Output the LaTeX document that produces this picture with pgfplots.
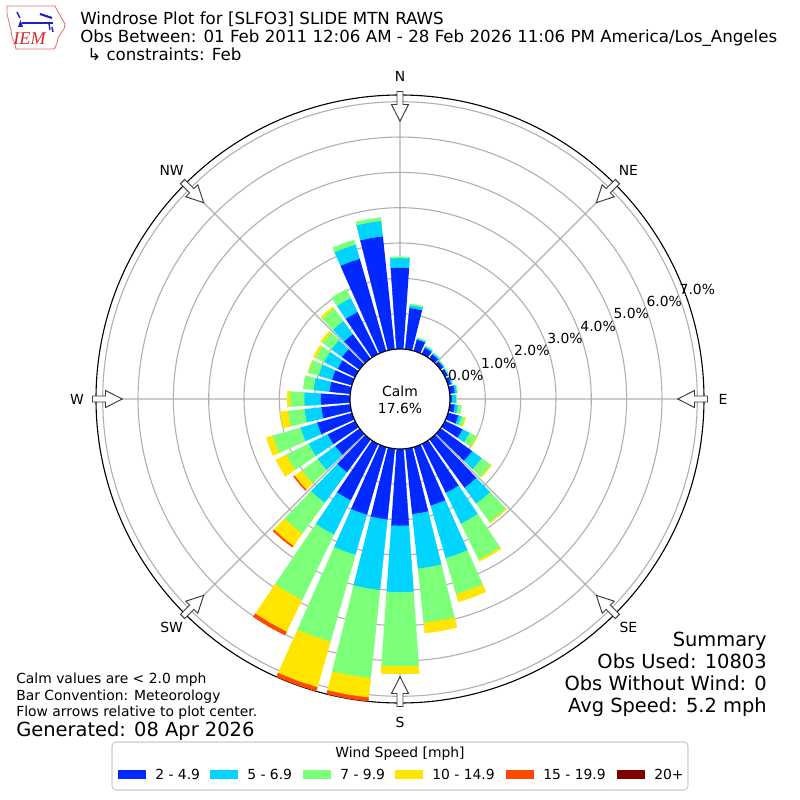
\documentclass[border=0pt]{standalone}
\usepackage{pgfplots}
\pgfplotsset{compat=1.18}
\usepackage{pgfplotstable}
\usepgfplotslibrary{polar}
\usepackage{fontspec}
\setmainfont{DejaVu Sans}
\newfontfamily\logofont{Liberation Serif}

\definecolor{wc1}{RGB}{0,40,255}
\definecolor{wc2}{RGB}{0,212,255}
\definecolor{wc3}{RGB}{124,255,121}
\definecolor{wc4}{RGB}{255,229,0}
\definecolor{wc5}{RGB}{255,72,0}
\definecolor{wc6}{RGB}{128,0,0}
\definecolor{gridgray}{RGB}{176,176,176}
\definecolor{arrowgray}{RGB}{60,60,60}
\definecolor{legendgray}{RGB}{204,204,204}
\definecolor{logored}{RGB}{215,40,40}
\definecolor{logoline}{RGB}{225,110,110}
\definecolor{logoblue}{RGB}{30,30,200}

\newcommand\ften{\fontsize{10}{12}\selectfont}
\newcommand\ftwelve{\fontsize{12}{14.4}\selectfont}
\newcommand\ffourteen{\fontsize{14}{16.8}\selectfont}

% wind direction (deg, from) and percent of observations per speed bin
\pgfplotstableread{
dir s1 s2 s3 s4 s5 s6
0 2.31 0.27 0.03 0 0 0
10 1.18 0.08 0.03 0 0 0
20 0.34 0.03 0.02 0 0 0
30 0.20 0.04 0.01 0 0 0
40 0.15 0.04 0.01 0 0 0
50 0.11 0.03 0.01 0 0 0
60 0.10 0.02 0.01 0 0 0
70 0.10 0.03 0.01 0 0 0
80 0.15 0.06 0.01 0 0 0
90 0.06 0.12 0.01 0 0 0
100 0.15 0.09 0.09 0 0 0
110 0.31 0.09 0.10 0.02 0 0
120 0.56 0.22 0.22 0.02 0 0
130 1.11 0.34 0.31 0.02 0 0
140 1.70 0.56 0.64 0.02 0 0
150 1.55 0.97 1.13 0.05 0 0
160 1.73 1.55 1.06 0.22 0 0
170 1.87 1.55 1.54 0.29 0 0
180 2.18 1.88 2.10 0.21 0 0
190 2.02 2.01 2.51 0.55 0.10 0
200 2.00 1.18 2.56 1.34 0.11 0
210 1.78 1.08 2.06 1.00 0.10 0
220 1.15 1.07 1.08 0.43 0.04 0
230 0.86 0.62 0.55 0.25 0.03 0
240 0.87 0.60 0.71 0.32 0 0
250 1.03 0.49 0.82 0.18 0 0
260 0.83 0.48 0.47 0.22 0 0
270 0.83 0.47 0.40 0.08 0 0
280 0.60 0.45 0.29 0 0 0
290 0.59 0.40 0.30 0.01 0 0
300 0.55 0.43 0.27 0.06 0 0
310 0.62 0.37 0.31 0.06 0 0
320 0.86 0.46 0.44 0.05 0 0
330 1.33 0.44 0.27 0 0 0
340 2.72 0.42 0.13 0 0 0
350 3.22 0.44 0.09 0 0 0
}\windtable

\begin{document}
\begin{tikzpicture}
\useasboundingbox (0,0) rectangle (576pt,576pt);
\begin{polaraxis}[
  at={(288pt,288.72pt)}, anchor=center,
  scale only axis, width=437.76pt, height=437.76pt,
  xmin=0, xmax=360, ymin=0, ymax=8.605,
  xtick={0,45,...,315}, xticklabels={},
  ytick={1.415,2.415,3.415,4.415,5.415,6.415,7.415,8.415}, yticklabels={},
  grid=major, major grid style={draw=gridgray, line width=0.8pt},
  tick style={draw=none}, major tick length=0pt,
  x axis line style={black, line width=0.8pt},
  y axis line style={draw=none},
]
\pgfplotsforeachungrouped \i in {0,...,35}{%
  \pgfplotstablegetelem{\i}{dir}\of\windtable \let\dd\pgfplotsretval
  \pgfmathsetmacro\phic{90-\dd}%
  \pgfmathsetmacro\phia{\phic-4}%
  \pgfmathsetmacro\phib{\phic+4}%
  \def\lo{1.415}%
  \pgfplotsforeachungrouped \j in {1,...,6}{%
    \pgfplotstablegetelem{\i}{s\j}\of\windtable \let\vv\pgfplotsretval
    \ifdim\vv pt>0pt
      \pgfmathsetmacro\hi{\lo+\vv}%
      \edef\doplot{\noexpand\addplot[forget plot, fill=wc\j, draw=wc\j, line width=0.3pt] coordinates {(\phia,\lo) (\phic,\lo) (\phib,\lo) (\phib,\hi) (\phic,\hi) (\phia,\hi)};}%
      \doplot
      \let\lo\hi
    \fi
  }%
}
\end{polaraxis}

\begin{scope}[x=0.72pt,y=0.72pt]
% calm circle
\draw[fill=white, line width=0.8pt] (400,401) circle[radius=50];
\node[align=center, font=\ften, inner sep=0pt] at (400,400) {Calm\\17.6\%};
% radial labels
\foreach \k in {0,...,7}{
  \pgfmathsetmacro\rr{51+35.33*\k}
  \node[anchor=south west, inner sep=0pt, font=\ften] at ({400+0.9367*\rr},{401+0.3502*\rr}) {\k.0\%};
}
% flow arrows
\foreach \a in {0,45,...,315}{
  \begin{scope}[shift={(400,401)}, rotate=\a]
    \draw[fill=white, draw=arrowgray, line width=0.7pt] (277.7,0) -- (294.5,8.5) -- (294.5,3) -- (307.5,3) -- (307.5,-3) -- (294.5,-3) -- (294.5,-8.5) -- cycle;
  \end{scope}
}
% direction labels
\foreach \a/\t in {90/N,45/NE,0/E,-45/SE,-90/S,-135/SW,180/W,135/NW}{
  \node[font=\ften, inner sep=0pt] at ({400+323*cos(\a)},{401+323*sin(\a)}) {\t};
}
% titles
\node[anchor=base west, inner sep=0pt, font=\ftwelve] at (80,775) {Windrose Plot for [SLFO3] SLIDE MTN RAWS};
\node[anchor=base west, inner sep=0pt, font=\ftwelve] at (80,757) {Obs Between: 01 Feb 2011 12:06 AM - 28 Feb 2026 11:06 PM America/Los\_Angeles};
\node[anchor=base west, inner sep=0pt, font=\ftwelve] at (87,739) {↳ constraints: Feb};
% logo
\draw[logoline, line width=0.6pt] (7,794) -- (55,794) -- (57,790) -- (61,783) -- (65,776) -- (64,771) -- (61,767) -- (58,762) -- (57,757) -- (55,752) -- (54,751) -- (16,751) -- (15,756) -- (12,763) -- (11,770) -- (9,778) -- (7,786) -- cycle;
\node[logored, font=\logofont\itshape\fontsize{13}{14}\selectfont, inner sep=0pt] at (29.5,761.5) {IEM};
\draw[logoblue, line width=1.2pt] (22,776.7) -- (53,776.7);
\fill[logoblue] (18,773) -- (20.5,780) -- (23,773) -- cycle;
\draw[logoblue, line width=1pt] (17,788) -- (20,782);
\draw[logoblue, line width=1.5pt] (40,786) -- (52,782);
\draw[logoblue, line width=1pt] (49,776.7) -- (50,770);
\draw[logoblue, line width=1pt] (52,773) -- (53,768);
% bottom left notes
\node[anchor=base west, inner sep=0pt, font=\ften] at (16,116) {Calm values are < 2.0 mph};
\node[anchor=base west, inner sep=0pt, font=\ften] at (16,99) {Bar Convention: Meteorology};
\node[anchor=base west, inner sep=0pt, font=\ften] at (16,83) {Flow arrows relative to plot center.};
\node[anchor=base west, inner sep=0pt, font=\ffourteen] at (16,63) {Generated: 08 Apr 2026};
% summary
\node[anchor=base east, inner sep=0pt, font=\ffourteen] at (767,153) {Summary};
\node[anchor=base east, inner sep=0pt, font=\ffourteen] at (767,131) {Obs Used: 10803};
\node[anchor=base east, inner sep=0pt, font=\ffourteen] at (767,109) {Obs Without Wind: 0};
\node[anchor=base east, inner sep=0pt, font=\ffourteen] at (767,87) {Avg Speed: 5.2 mph};
% legend
\draw[rounded corners=3, draw=legendgray, line width=0.8pt, fill=white] (112,10) rectangle (688,58);
\node[font=\ften, inner sep=0pt] at (400,46.5) {Wind Speed [mph]};
\foreach \x/\c/\t in {118/wc1/2 - 4.9, 210/wc2/5 - 6.9, 303/wc3/7 - 9.9, 395/wc4/10 - 14.9, 506/wc5/15 - 19.9, 617/wc6/20+}{
  \fill[\c] (\x,21) rectangle ({\x+28},30);
  \node[anchor=west, font=\ften, inner sep=0pt] at ({\x+37},25.5) {\t};
}
\end{scope}
\end{tikzpicture}
\end{document}
